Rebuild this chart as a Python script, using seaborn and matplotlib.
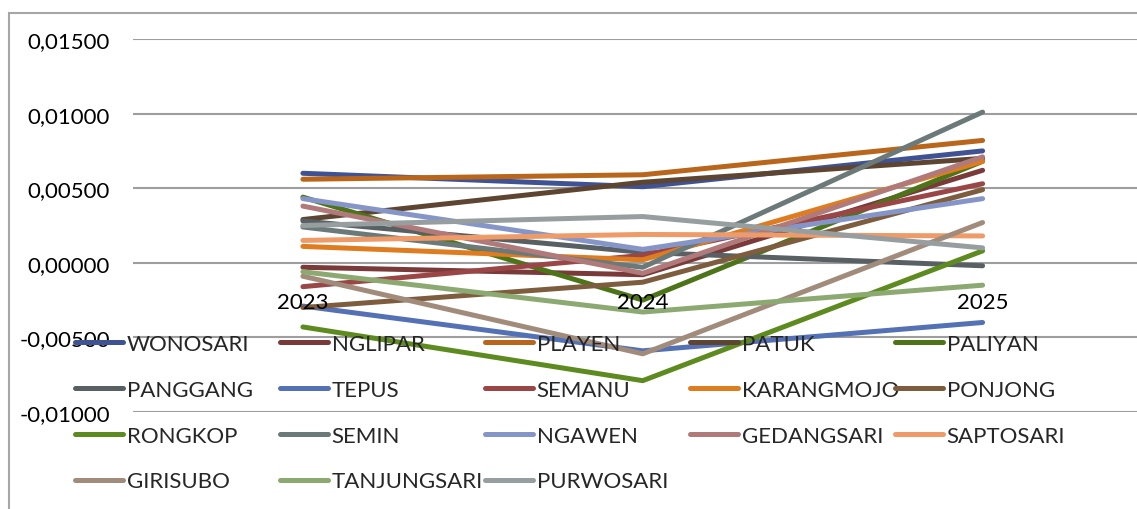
import matplotlib.pyplot as plt
import pandas as pd
import seaborn as sns
from matplotlib.patches import Rectangle

KECAMATAN = [
    "WONOSARI", "NGLIPAR", "PLAYEN", "PATUK", "PALIYAN",
    "PANGGANG", "TEPUS", "SEMANU", "KARANGMOJO", "PONJONG",
    "RONGKOP", "SEMIN", "NGAWEN", "GEDANGSARI", "SAPTOSARI",
    "GIRISUBO", "TANJUNGSARI", "PURWOSARI",
]
TAHUN = ["2023", "2024", "2025"]

NILAI_2023 = [0.0060, -0.0003, 0.0056, 0.0029, 0.0044, 0.0028, -0.0029, -0.0016, 0.0011,
              -0.0030, -0.0043, 0.0024, 0.0043, 0.0038, 0.0015, -0.0009, -0.0006, 0.0025]
NILAI_2024 = [0.0051, -0.0008, 0.0059, 0.0054, -0.0025, 0.0007, -0.0059, 0.0005, 0.0002,
              -0.0013, -0.0079, -0.0003, 0.0009, -0.0007, 0.0019, -0.0061, -0.0033, 0.0031]
NILAI_2025 = [0.0075, 0.0062, 0.0082, 0.0070, 0.0068, -0.0002, -0.0040, 0.0053, 0.0068,
              0.0049, 0.0008, 0.0101, 0.0043, 0.0071, 0.0018, 0.0027, -0.0015, 0.0010]

WARNA = [
    "#3F5293", "#7A3A3A", "#B9651C", "#5D4532", "#4D7419",
    "#586064", "#5571B5", "#9A4646", "#DE7C1F", "#7E5C3E",
    "#5E8B1F", "#6C7979", "#8595C8", "#B07A7A", "#EE9B69",
    "#A18C7C", "#8BA970", "#979EA0",
]

Y_TICKS = [-0.01, -0.005, 0.0, 0.005, 0.01, 0.015]

W, H = 1137, 510
FS = 16

sns.set_theme(style="white")
plt.rcParams["font.family"] = ["Lato", "DejaVu Sans"]

rows = []
for i, tahun in enumerate(TAHUN):
    nilai = [NILAI_2023, NILAI_2024, NILAI_2025][i]
    for kec, v in zip(KECAMATAN, nilai):
        rows.append({"kecamatan": kec, "posisi": i, "tahun": tahun, "nilai": v})
df = pd.DataFrame(rows)

fig = plt.figure(figsize=(W / 100, H / 100), dpi=100)
ax = fig.add_axes([133 / W, 1 - 413 / H, 1019.5 / W, 373 / H])

sns.lineplot(
    data=df, x="posisi", y="nilai", hue="kecamatan", hue_order=KECAMATAN,
    palette=dict(zip(KECAMATAN, WARNA)), linewidth=3.6, solid_capstyle="round",
    legend=False, ax=ax,
)

ax.set_xlim(-0.5, 2.5)
ax.set_ylim(-0.01, 0.015)
ax.set_yticks(Y_TICKS)
ax.set_yticklabels([f"{v:.5f}".replace(".", ",").replace("-0,00000", "0,00000") for v in Y_TICKS])
ax.set_xticks([])
ax.tick_params(axis="y", length=0, pad=16.5, labelsize=FS, labelcolor="black")
ax.grid(axis="y", color="#9E9E9E", linewidth=1.5)
ax.set_axisbelow(True)
for s in ax.spines.values():
    s.set_visible(False)
ax.set_xlabel("")
ax.set_ylabel("")
ax.patch.set_alpha(0)

for i, tahun in enumerate(TAHUN):
    ax.annotate(tahun, xy=(i, 0), xytext=(0, -21), textcoords="offset points",
                ha="center", va="top", fontsize=FS, color="black")

# legenda dibuat per kolom supaya lebar kolom seragam seperti Excel
garis = ax.get_lines()
for c in range(5):
    idx = list(range(c, len(KECAMATAN), 5))
    fig.legend(
        [garis[k] for k in idx], [KECAMATAN[k] for k in idx],
        loc="upper left", bbox_to_anchor=((75 + 205 * c) / W, 1 - 335 / H),
        frameon=False, fontsize=FS, borderpad=0, borderaxespad=0,
        handlelength=2.15, handletextpad=0.18, labelspacing=1.16,
    )

fig.add_artist(Rectangle((9 / W, -0.1), 1.2, 1.1 - 14 / H, transform=fig.transFigure,
                         fill=False, edgecolor="#A6A6A6", linewidth=1.5))

fig.savefig("out.png", dpi=100)
